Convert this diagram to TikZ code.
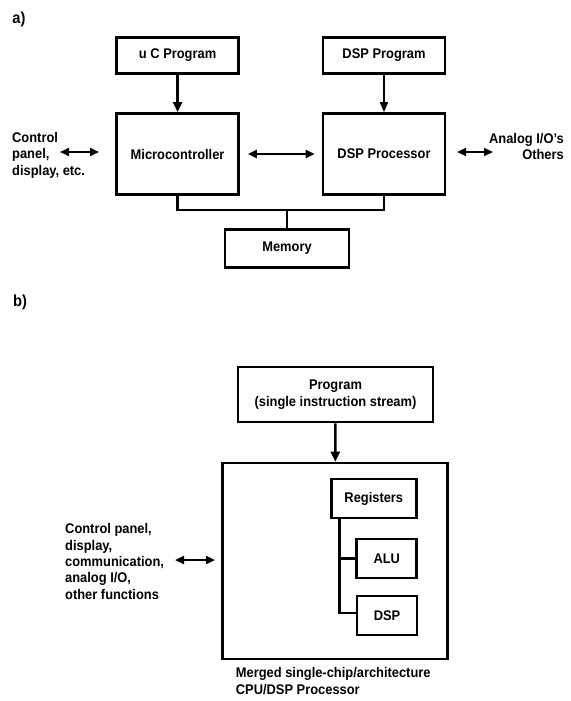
\documentclass[tikz,border=0pt]{standalone}
\usepackage{fontspec}
\setmainfont{Liberation Sans}[FakeStretch=0.92]
\usetikzlibrary{arrows.meta}
\newcommand\dfsz{\fontsize{14pt}{16.4pt}\selectfont\bfseries}
\newcommand\tfsz{\fontsize{16pt}{18pt}\selectfont\bfseries}
\begin{document}
\begin{tikzpicture}[x=1pt,y=-1pt,
  box/.style={draw,line width=2.7pt,inner sep=0pt,font=\dfsz,align=center},
  lbl/.style={inner sep=0pt,font=\dfsz},
  ttl/.style={inner sep=0pt,font=\tfsz},
  conn/.style={line width=2.4pt},
  arr/.style={line width=2.4pt,-{Triangle[length=10pt,width=9pt]}},
  thinarr/.style={line width=1.6pt,-{Triangle[length=10pt,width=8pt]}},
  darr/.style={line width=2.2pt,{Triangle[length=9pt,width=8pt]}-{Triangle[length=9pt,width=8pt]}}]
\useasboundingbox (0,0) rectangle (570,701);
% ---------- panel a ----------
\node[ttl] (ta) at (19,19) {a)};
\node[box,minimum width=122pt,minimum height=36pt] (uc) at (177.6,55.5) {u C Program};
\node[box,minimum width=122pt,minimum height=36pt] (dprog) at (384,55.5) {DSP Program};
\node[box,minimum width=122pt,minimum height=81pt] (mc) at (177.6,154) {Microcontroller};
\node[box,minimum width=122pt,minimum height=81pt] (dp) at (384,154) {DSP Processor};
\node[box,minimum width=124pt,minimum height=38pt] (mem) at (287,248.5) {Memory};
\node[lbl,anchor=west,align=left] (lt) at (12,155) {Control\\panel,\\display, etc.};
\node[lbl,anchor=east,align=right] (rt) at (564,146.5) {Analog I/O's\\Others};
\draw[arr] (uc) -- (mc);
\draw[thinarr] (dprog) -- (dp);
\draw[darr,shorten <=8pt,shorten >=7pt] (mc) -- (dp);
\coordinate (la1) at (60,152);
\coordinate (la2) at (99,152);
\draw[darr] (la1) -- (la2);
\coordinate (ra1) at (457,152);
\coordinate (ra2) at (493,152);
\draw[darr] (ra1) -- (ra2);
\coordinate (bj) at (287,210);
\draw[conn] (mc.south) |- (bj) -| (dp.south);
\draw[conn] (bj) -- (mem.north);
% ---------- panel b ----------
\node[ttl] (tb) at (20,302) {b)};
\node[box,minimum width=195pt,minimum height=55pt] (prog) at (335.5,394.5) {Program\\(single instruction stream)};
\node[box,minimum width=225pt,minimum height=196pt] (cpu) at (335,561) {};
\node[box,minimum width=85pt,minimum height=39pt] (reg) at (373.8,498.5) {Registers};
\node[box,minimum width=60pt,minimum height=39pt] (alu) at (386.8,558.5) {ALU};
\node[box,minimum width=60pt,minimum height=39pt] (dsp) at (387,615.5) {DSP};
\draw[arr] (prog) -- (cpu);
\coordinate (t0) at (339.4,518);
\coordinate (t1) at (339.4,613);
\draw[conn] (t0) -- (t1) -- (t1 -| dsp.west);
\draw[conn] (t0 |- alu.west) -- (alu.west);
\node[lbl,anchor=west,align=left] (lb) at (65,561.5) {Control panel,\\display,\\communication,\\analog I/O,\\other functions};
\coordinate (lb1) at (175,560);
\coordinate (lb2) at (215,560);
\draw[darr] (lb1) -- (lb2);
\node[lbl,anchor=west,align=left] (cap) at (235.7,681) {Merged single-chip/architecture\\CPU/DSP Processor};
\end{tikzpicture}
\end{document}
